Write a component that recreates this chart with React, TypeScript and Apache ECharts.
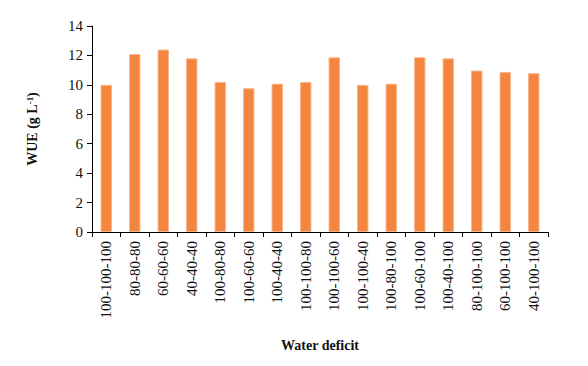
import React, { useEffect, useRef } from "react";
import * as echarts from "echarts";

const categories = [
  "100-100-100", "80-80-80", "60-60-60", "40-40-40", "100-80-80", "100-60-60",
  "100-40-40", "100-100-80", "100-100-60", "100-100-40", "100-80-100", "100-60-100",
  "100-40-100", "80-100-100", "60-100-100", "40-100-100",
];
const wueValues = [10.0, 12.1, 12.4, 11.8, 10.2, 9.77, 10.08, 10.2, 11.87, 10.0, 10.08, 11.87, 11.8, 10.97, 10.88, 10.79];
const yTicks = { min: 0, max: 14, interval: 2 };

export default function App() {
  const ref = useRef<HTMLDivElement>(null);
  useEffect(() => {
    if (!ref.current) return;
    const chart = echarts.init(ref.current, null, { renderer: "svg" });
    const font = "'Liberation Serif', 'DejaVu Serif', serif";
    chart.setOption({
      animation: false,
      backgroundColor: "#ffffff",
      grid: { left: 92, right: 40, top: 26, bottom: 134, containLabel: false },
      xAxis: {
        type: "category",
        data: categories,
        name: "Water deficit",
        nameLocation: "middle",
        nameGap: 106,
        nameTextStyle: { fontFamily: font, fontWeight: "bold", fontSize: 14, color: "#111" },
        axisLine: { show: true, lineStyle: { color: "#000", width: 1 } },
        axisTick: { show: true, alignWithLabel: false, length: 5, lineStyle: { color: "#000" } },
        axisLabel: { interval: 0, rotate: 90, margin: 9, fontFamily: font, fontSize: 15, color: "#111" },
        splitLine: { show: false },
      },
      yAxis: {
        type: "value",
        min: yTicks.min,
        max: yTicks.max,
        interval: yTicks.interval,
        name: "WUE (g L{sup|-1})",
        nameLocation: "middle",
        nameGap: 52,
        nameRotate: 90,
        nameTextStyle: {
          fontFamily: font, fontWeight: "bold", fontSize: 14, color: "#111",
          rich: { sup: { fontFamily: font, fontWeight: "bold", fontSize: 9, verticalAlign: "top", color: "#111", padding: [0, 0, 6, 0] } },
        },
        axisLine: { show: true, lineStyle: { color: "#000", width: 1 } },
        axisTick: { show: true, length: 5, lineStyle: { color: "#000" } },
        axisLabel: { margin: 9, fontFamily: font, fontSize: 15, color: "#111" },
        splitLine: { show: false },
      },
      series: [
        {
          type: "bar",
          data: wueValues,
          barWidth: "40%",
          itemStyle: { color: "#F4853F", borderColor: "#F8B58C", borderWidth: 1 },
        },
      ],
    });
    return () => chart.dispose();
  }, []);
  return <div ref={ref} style={{ position: "absolute", left: 0, top: 0, width: 588, height: 366 }} />;
}
